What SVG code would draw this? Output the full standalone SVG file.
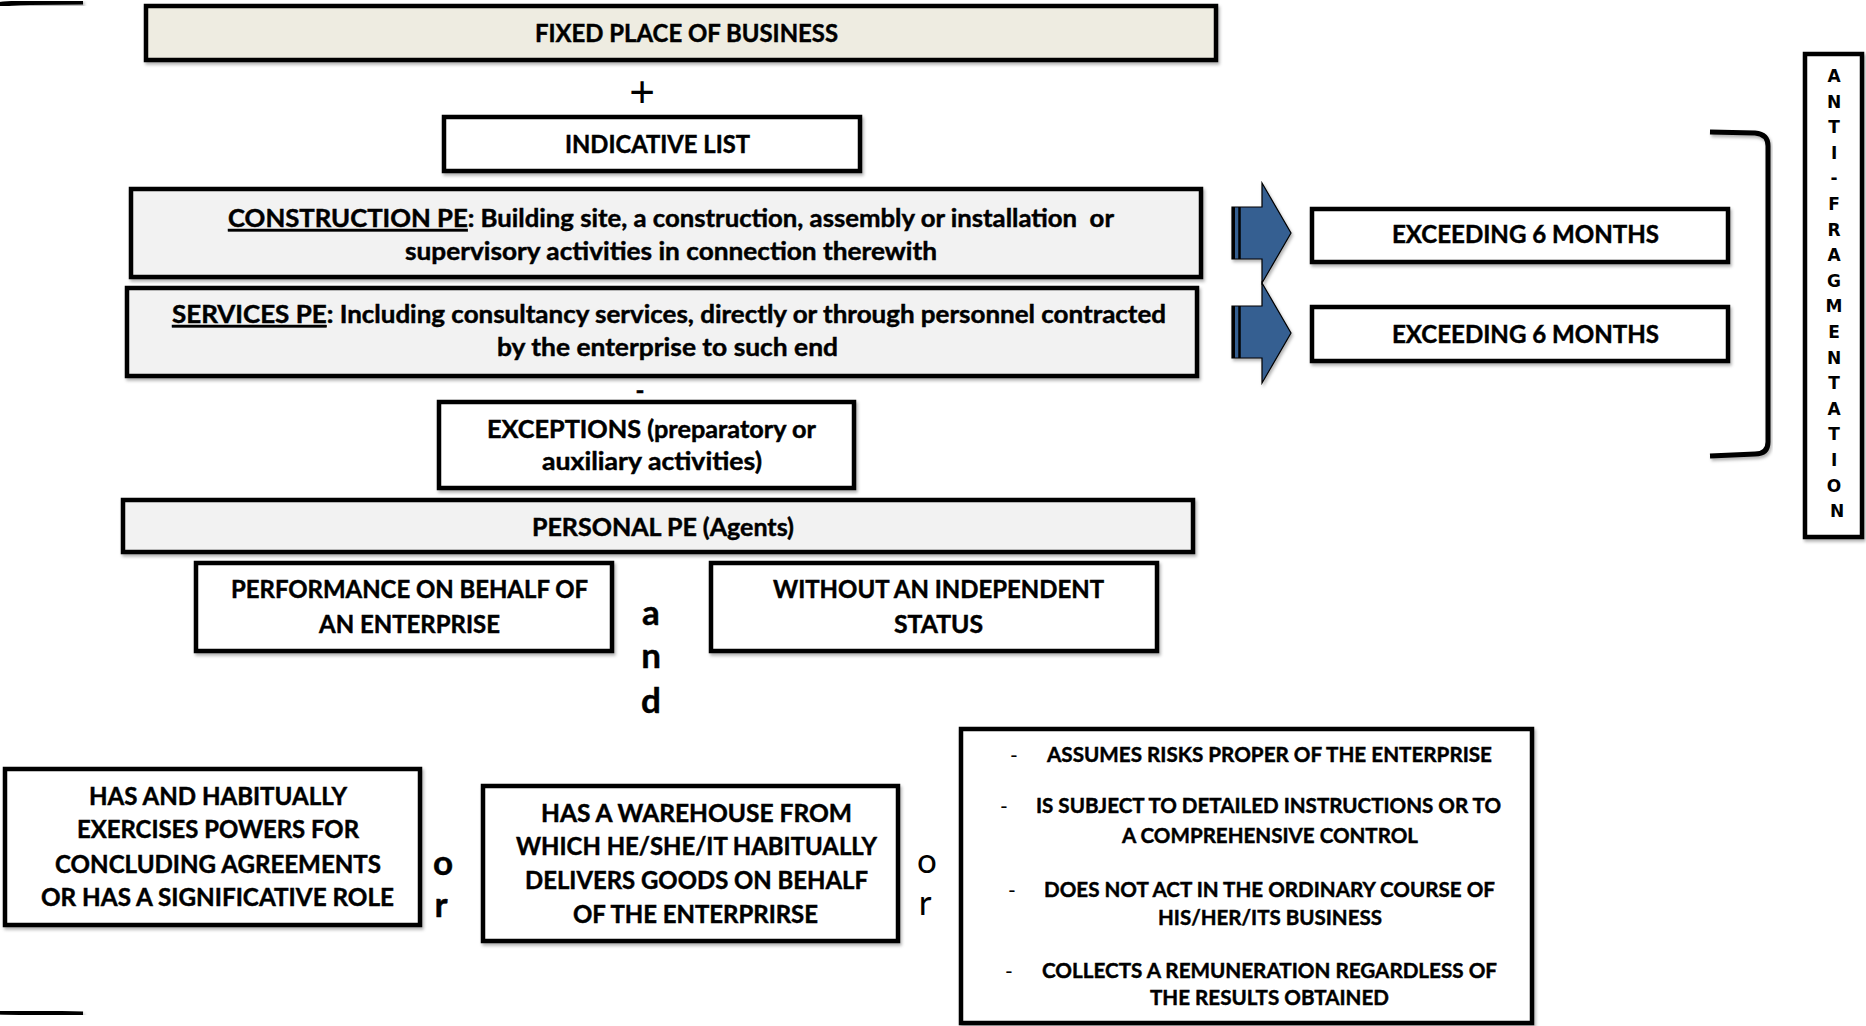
<svg xmlns="http://www.w3.org/2000/svg" width="1866" height="1026" viewBox="0 0 1866 1026">
<defs>
<filter id="sh" x="-5%" y="-10%" width="112%" height="130%">
<feDropShadow dx="1.5" dy="2.5" stdDeviation="1.5" flood-color="#000" flood-opacity="0.3"/>
</filter>
<style>
.box{stroke:#000;stroke-width:4.5;fill:#fff;filter:url(#sh)}
.beige{fill:#EEECE1}
.grey{fill:#F2F2F2}
.t{font-family:Lato,'Open Sans','Liberation Sans',sans-serif;font-weight:700;font-size:24px;fill:#000;stroke:#000;stroke-width:0.45}
.s{font-size:21px}
.big{font-size:35px;text-anchor:middle}
.reg{font-weight:400;stroke-width:0}
.v{font-family:'DejaVu Sans',Verdana,sans-serif;font-weight:700;font-size:17px;text-anchor:middle}
.br{fill:none;stroke:#000;stroke-width:5;filter:url(#sh)}
.arrow{fill:#365F91;stroke:#000;stroke-width:1.2;filter:url(#sh)}
.u{text-decoration:underline}
</style>
</defs>
<rect width="1866" height="1026" fill="#fff"/>

<g id="brackets">
<path class="br" d="M83,2 L30,2.5 Q10,3 -4,5"/>
<path class="br" d="M-2,1012 L83,1014"/>
<path class="br" d="M1710,132 L1755,133 Q1768,134 1768,146 L1768,442 Q1768,454 1755,454 L1710,456"/>
</g>

<g id="fixed-place">
<rect class="box beige" x="146" y="6" width="1070" height="54"/>
<text class="t" x="535" y="42" textLength="303" lengthAdjust="spacingAndGlyphs">FIXED PLACE OF BUSINESS</text>
</g>

<g id="indicative-list">
<rect class="box" x="444" y="117" width="416" height="54"/>
<text class="t" x="565" y="153" textLength="185" lengthAdjust="spacingAndGlyphs">INDICATIVE LIST</text>
</g>

<g id="construction-pe">
<rect class="box grey" x="131" y="189" width="1070" height="88"/>
<text class="t" x="228" y="227" textLength="886" lengthAdjust="spacingAndGlyphs" xml:space="preserve"><tspan class="u">CONSTRUCTION PE</tspan>: Building site, a construction, assembly or installation  or</text>
<text class="t" x="405" y="260" textLength="532" lengthAdjust="spacingAndGlyphs">supervisory activities in connection therewith</text>
</g>

<g id="services-pe">
<rect class="box grey" x="127" y="288" width="1070" height="88"/>
<text class="t" x="172" y="323" textLength="994" lengthAdjust="spacingAndGlyphs"><tspan class="u">SERVICES PE</tspan>: Including consultancy services, directly or through personnel contracted</text>
<text class="t" x="497" y="356" textLength="341" lengthAdjust="spacingAndGlyphs">by the enterprise to such end</text>
</g>

<g id="exceptions">
<rect class="box" x="439" y="402" width="415" height="86"/>
<text class="t" x="487" y="438" textLength="329" lengthAdjust="spacingAndGlyphs">EXCEPTIONS (preparatory or</text>
<text class="t" x="542" y="470" textLength="220" lengthAdjust="spacingAndGlyphs">auxiliary activities)</text>
</g>

<g id="personal-pe">
<rect class="box grey" x="123" y="500" width="1070" height="52"/>
<text class="t" x="532" y="536" textLength="262" lengthAdjust="spacingAndGlyphs">PERSONAL PE (Agents)</text>
</g>

<g id="performance">
<rect class="box" x="196" y="563" width="416" height="88"/>
<text class="t" x="231" y="598" textLength="357" lengthAdjust="spacingAndGlyphs">PERFORMANCE ON BEHALF OF</text>
<text class="t" x="319" y="633" textLength="181" lengthAdjust="spacingAndGlyphs">AN ENTERPRISE</text>
</g>

<g id="without-status">
<rect class="box" x="711" y="563" width="446" height="88"/>
<text class="t" x="773" y="598" textLength="331" lengthAdjust="spacingAndGlyphs">WITHOUT AN INDEPENDENT</text>
<text class="t" x="894" y="633" textLength="89" lengthAdjust="spacingAndGlyphs">STATUS</text>
</g>

<g id="exceeding-1">
<rect class="box" x="1312" y="209" width="416" height="53"/>
<text class="t" x="1392" y="243" textLength="267" lengthAdjust="spacingAndGlyphs">EXCEEDING 6 MONTHS</text>
</g>

<g id="exceeding-2">
<rect class="box" x="1312" y="307" width="416" height="54"/>
<text class="t" x="1392" y="343" textLength="267" lengthAdjust="spacingAndGlyphs">EXCEEDING 6 MONTHS</text>
</g>

<g id="anti-fragmentation">
<rect class="box" x="1805" y="54" width="57" height="483"/>
<text class="v">
<tspan x="1837" y="82">A</tspan>
<tspan x="1837" y="107.6">N</tspan>
<tspan x="1837" y="133.2">T</tspan>
<tspan x="1837" y="158.8">I</tspan>
<tspan x="1837" y="184.4">-</tspan>
<tspan x="1837" y="210">F</tspan>
<tspan x="1837" y="235.6">R</tspan>
<tspan x="1837" y="261.2">A</tspan>
<tspan x="1837" y="286.8">G</tspan>
<tspan x="1837" y="312.4">M</tspan>
<tspan x="1837" y="338">E</tspan>
<tspan x="1837" y="363.6">N</tspan>
<tspan x="1837" y="389.2">T</tspan>
<tspan x="1837" y="414.8">A</tspan>
<tspan x="1837" y="440.4">T</tspan>
<tspan x="1837" y="466">I</tspan>
<tspan x="1837" y="491.6">O</tspan>
<tspan x="1837" y="517.2">N</tspan>
</text>
</g>

<g id="concluding-agreements">
<rect class="box" x="5" y="769" width="415" height="156"/>
<text class="t" x="89" y="805" textLength="258" lengthAdjust="spacingAndGlyphs">HAS AND HABITUALLY</text>
<text class="t" x="77" y="838" textLength="282" lengthAdjust="spacingAndGlyphs">EXERCISES POWERS FOR</text>
<text class="t" x="55" y="873" textLength="326" lengthAdjust="spacingAndGlyphs">CONCLUDING AGREEMENTS</text>
<text class="t" x="41" y="906" textLength="353" lengthAdjust="spacingAndGlyphs">OR HAS A SIGNIFICATIVE ROLE</text>
</g>

<g id="warehouse">
<rect class="box" x="483" y="786" width="415" height="155"/>
<text class="t" x="541" y="822" textLength="311" lengthAdjust="spacingAndGlyphs">HAS A WAREHOUSE FROM</text>
<text class="t" x="516" y="855" textLength="361" lengthAdjust="spacingAndGlyphs">WHICH HE/SHE/IT HABITUALLY</text>
<text class="t" x="525" y="889" textLength="343" lengthAdjust="spacingAndGlyphs">DELIVERS GOODS ON BEHALF</text>
<text class="t" x="573" y="923" textLength="245" lengthAdjust="spacingAndGlyphs">OF THE ENTERPRIRSE</text>
</g>

<g id="dependent-agent-criteria">
<rect class="box" x="961" y="729" width="571" height="294"/>
<text class="t s reg" x="1014" y="763" text-anchor="middle">-</text>
<text class="t s" x="1047" y="762" textLength="445" lengthAdjust="spacingAndGlyphs">ASSUMES RISKS PROPER OF THE ENTERPRISE</text>
<text class="t s reg" x="1004" y="814" text-anchor="middle">-</text>
<text class="t s" x="1036" y="813" textLength="465" lengthAdjust="spacingAndGlyphs">IS SUBJECT TO DETAILED INSTRUCTIONS OR TO</text>
<text class="t s" x="1122" y="843" textLength="296" lengthAdjust="spacingAndGlyphs">A COMPREHENSIVE CONTROL</text>
<text class="t s reg" x="1012" y="898" text-anchor="middle">-</text>
<text class="t s" x="1044" y="897" textLength="451" lengthAdjust="spacingAndGlyphs">DOES NOT ACT IN THE ORDINARY COURSE OF</text>
<text class="t s" x="1158" y="925" textLength="224" lengthAdjust="spacingAndGlyphs">HIS/HER/ITS BUSINESS</text>
<text class="t s reg" x="1009" y="979" text-anchor="middle">-</text>
<text class="t s" x="1042" y="978" textLength="455" lengthAdjust="spacingAndGlyphs">COLLECTS A REMUNERATION REGARDLESS OF</text>
<text class="t s" x="1150" y="1005" textLength="239" lengthAdjust="spacingAndGlyphs">THE RESULTS OBTAINED</text>
</g>

<g id="connectors">
<polygon class="arrow" points="1232,207 1262,207 1262,183 1291,233 1262,283 1262,259 1232,259"/>
<line x1="1233.5" y1="207" x2="1233.5" y2="259" stroke="#000" stroke-width="3"/>
<line x1="1239.5" y1="207" x2="1239.5" y2="259" stroke="#000" stroke-width="2.5"/>
<polygon class="arrow" points="1232,306 1262,306 1262,283 1291,333 1262,383 1262,358 1232,358"/>
<line x1="1233.5" y1="306" x2="1233.5" y2="358" stroke="#000" stroke-width="3"/>
<line x1="1239.5" y1="306" x2="1239.5" y2="358" stroke="#000" stroke-width="2.5"/>
</g>

<g id="operators">
<text x="642" y="107" font-family="'Liberation Sans',sans-serif" font-size="44" text-anchor="middle">+</text>
<text class="t" x="640" y="399" text-anchor="middle">-</text>
<text class="t big" x="651" y="625">a</text>
<text class="t big" x="651" y="668">n</text>
<text class="t big" x="651" y="713">d</text>
<text class="t big" x="443" y="875">o</text>
<text class="t big" x="441" y="917">r</text>
<text class="t big reg" x="927" y="873">o</text>
<text class="t big reg" x="925" y="915">r</text>
</g>
</svg>
